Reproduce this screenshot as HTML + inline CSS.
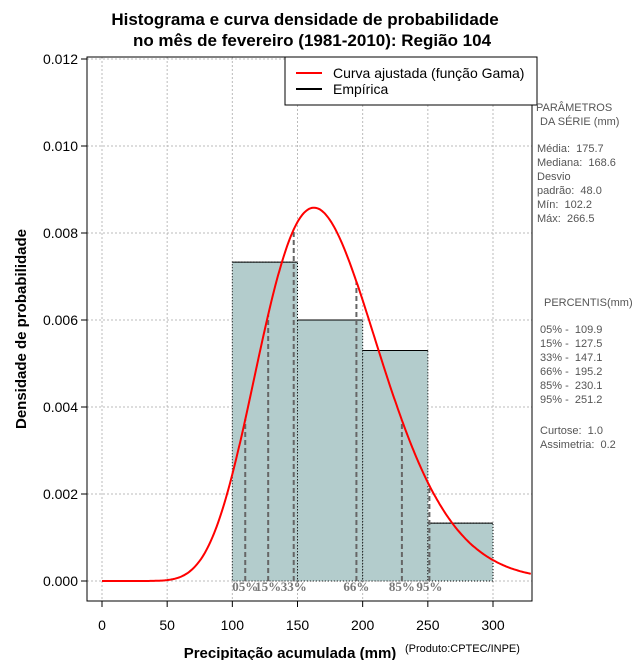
<!DOCTYPE html>
<html><head><meta charset="utf-8"><style>
body{margin:0;background:#fff;width:640px;height:660px;overflow:hidden}
svg{font-family:"Liberation Sans",sans-serif}
text{white-space:pre}
</style></head><body>
<svg id="c" width="640" height="660">
<text x="305" y="25" text-anchor="middle" font-size="17" font-weight="bold">Histograma e curva densidade de probabilidade</text>
<text x="312" y="46" text-anchor="middle" font-size="17" font-weight="bold">no mês de fevereiro (1981-2010): Região 104</text>
<g id="grid"></g><g id="bars"></g><g id="pct"></g><g id="curve"></g><g id="axes"></g>
<rect x="87" y="57" width="445" height="544" fill="none" stroke="#000"/>
<g>
<rect x="285" y="57" width="252" height="48" fill="#fff" stroke="#000"/>
<line x1="296" y1="73" x2="322" y2="73" stroke="red" stroke-width="2"/>
<text x="333" y="78" font-size="14">Curva ajustada (função Gama)</text>
<line x1="296" y1="89" x2="322" y2="89" stroke="#000" stroke-width="2"/>
<text x="333" y="94" font-size="14">Empírica</text>
</g>
<g font-size="11" fill="#555">
<text x="536" y="111">PARÂMETROS</text><text x="540" y="125">DA SÉRIE (mm)</text>
<text x="537" y="152">Média:  175.7</text><text x="537" y="166">Mediana:  168.6</text>
<text x="537" y="180">Desvio</text><text x="537" y="194">padrão:  48.0</text>
<text x="537" y="208">Mín:  102.2</text><text x="537" y="222">Máx:  266.5</text>
<text x="544" y="306">PERCENTIS(mm)</text>
<text x="540" y="333">05% -  109.9</text><text x="540" y="347">15% -  127.5</text>
<text x="540" y="361">33% -  147.1</text><text x="540" y="375">66% -  195.2</text>
<text x="540" y="389">85% -  230.1</text><text x="540" y="403">95% -  251.2</text>
<text x="540" y="434">Curtose:  1.0</text><text x="540" y="448">Assimetria:  0.2</text>
</g>
<text x="290" y="658" text-anchor="middle" font-size="15" font-weight="bold">Precipitação acumulada (mm)</text>
<text x="405" y="652" font-size="11">(Produto:CPTEC/INPE)</text>
<text transform="translate(26,329) rotate(-90)" text-anchor="middle" font-size="15" font-weight="bold">Densidade de probabilidade</text>
</svg>
<script>
const binStarts=[100,150,200,250];
const binDensity=[0.00733,0.0060,0.0053,0.00133];
const binWidth=50;
const xTicks=[0,50,100,150,200,250,300];
const yTicks=[0,0.002,0.004,0.006,0.008,0.010,0.012];
const yTickLabels=["0.000","0.002","0.004","0.006","0.008","0.010","0.012"];
const pctValues=[109.9,127.5,147.1,195.2,230.1,251.2];
const pctLabels=["05%","15%","33%","66%","85%","95%"];
const meanVal=[175.7];const sdVal=[48.0];
const NS="http://www.w3.org/2000/svg";
const X=v=>102+v*(391/300), Y=v=>581-v*(522/0.012);
function mk(t,a,p){const e=document.createElementNS(NS,t);for(const k in a)e.setAttribute(k,a[k]);document.getElementById(p).appendChild(e);return e;}
function lgamma(z){const g=7,c=[0.99999999999980993,676.5203681218851,-1259.1392167224028,771.32342877765313,-176.61502916214059,12.507343278686905,-0.13857109526572012,9.9843695780195716e-6,1.5056327351493116e-7];z-=1;let x=c[0];for(let i=1;i<9;i++)x+=c[i]/(z+i);const t=z+g+0.5;return 0.5*Math.log(2*Math.PI)+(z+0.5)*Math.log(t)-t+Math.log(x);}
const k=(meanVal[0]/sdVal[0])**2, th=sdVal[0]**2/meanVal[0];
const pdf=x=>x<=0?0:Math.exp((k-1)*Math.log(x)-x/th-lgamma(k)-k*Math.log(th));
xTicks.forEach(t=>{let e=mk('line',{x1:X(t),x2:X(t),y1:57,y2:601,stroke:'#bbb','stroke-dasharray':'2,2'},'grid');
e=mk('line',{x1:X(t),x2:X(t),y1:601,y2:607,stroke:'#000'},'axes');
e=mk('text',{x:X(t),y:630,'text-anchor':'middle','font-size':14},'axes');e.textContent=t;});
yTicks.forEach((t,i)=>{let e=mk('line',{x1:87,x2:532,y1:Y(t),y2:Y(t),stroke:'#bbb','stroke-dasharray':'2,2'},'grid');
e=mk('line',{x1:81,x2:87,y1:Y(t),y2:Y(t),stroke:'#000'},'axes');
e=mk('text',{x:78,y:Y(t)+5,'text-anchor':'end','font-size':14},'axes');e.textContent=yTickLabels[i];});
binStarts.forEach((s,i)=>{const e=mk('rect',{x:X(s),y:Y(binDensity[i]),width:X(s+binWidth)-X(s),height:Y(0)-Y(binDensity[i]),fill:'#b3cccc',stroke:'#000','stroke-dasharray':'1,2'},'bars');
const t=mk('line',{x1:X(s),x2:X(s+binWidth),y1:Y(binDensity[i]),y2:Y(binDensity[i]),stroke:'#000'},'bars');});
pctValues.forEach((p,i)=>{let e=mk('line',{x1:X(p),x2:X(p),y1:Y(0),y2:Y(pdf(p)),stroke:'#666','stroke-width':2,'stroke-dasharray':'5,3'},'pct');
e=mk('text',{x:X(p),y:591,'text-anchor':'middle','font-size':13,'font-weight':'bold',fill:'#777','font-family':'Liberation Serif, serif'},'pct');e.textContent=pctLabels[i];});
let d='';for(let x=0;x<=330;x+=1){const px=X(x);if(px>532)break;d+=(x?'L':'M')+px.toFixed(1)+','+Y(pdf(x)).toFixed(1);}
const c=mk('path',{d:d,fill:'none',stroke:'red','stroke-width':2},'curve');
</script>
</body></html>
